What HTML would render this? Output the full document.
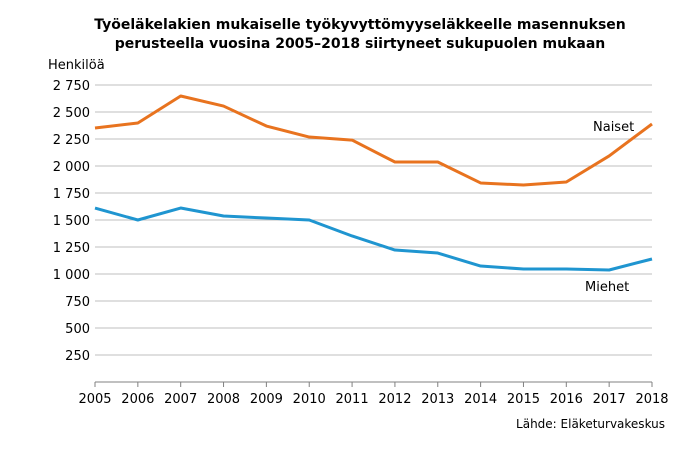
<!DOCTYPE html>
<html><head><meta charset="utf-8"><style>
body{margin:0;background:#fff;}
svg text{font-family:Verdana,"DejaVu Sans","Liberation Sans",sans-serif;fill:#000;}
</style></head><body>
<svg width="698" height="445" viewBox="0 0 698 445">
<text x="360" y="29" text-anchor="middle" font-size="14" font-weight="bold">Työeläkelakien mukaiselle työkyvyttömyyseläkkeelle masennuksen</text>
<text x="360" y="48" text-anchor="middle" font-size="14" font-weight="bold">perusteella vuosina 2005–2018 siirtyneet sukupuolen mukaan</text>
<text x="48" y="69" font-size="13">Henkilöä</text>
<g id="grid"></g><g id="yt"></g><g id="xt"></g><g id="lines"></g>
<text x="593" y="131" font-size="13">Naiset</text>
<text x="585" y="291" font-size="13">Miehet</text>
<text x="665" y="428" text-anchor="end" font-size="12">Lähde: Eläketurvakeskus</text>
</svg>
<script>
const years=[2005,2006,2007,2008,2009,2010,2011,2012,2013,2014,2015,2016,2017,2018];
const naiset=[2352,2398,2648,2555,2370,2268,2240,2037,2037,1843,1824,1852,2093,2389];
const miehet=[1611,1500,1611,1537,1518,1500,1352,1222,1194,1074,1046,1046,1037,1139];
const yTicks=[250,500,750,1000,1250,1500,1750,2000,2250,2500,2750];
const NS="http://www.w3.org/2000/svg";
const x=i=>95+i*(557/13);
const y=v=>382-v*(297/2750);
function mk(t,a,p){const e=document.createElementNS(NS,t);for(const k in a)e.setAttribute(k,a[k]);document.getElementById(p).appendChild(e);return e;}
yTicks.forEach(v=>{
 const g=mk('line',{x1:95,x2:652,y1:y(v),y2:y(v),stroke:'#bfbfbf','stroke-width':1},'grid');
 
 
 const t=mk('text',{x:90,y:y(v)+5,'text-anchor':'end','font-size':13},'yt');
 t.textContent=v.toLocaleString('fi-FI').replace(/\s/g,' ');
 t.textContent=String(v).replace(/\B(?=(\d{3})+$)/,' ');
 
 
});
const ax=mk('line',{x1:95,x2:652,y1:382,y2:382,stroke:'#808080','stroke-width':1},'grid');


years.forEach((yr,i)=>{
 const tk=mk('line',{x1:x(i),x2:x(i),y1:382,y2:387,stroke:'#808080'},'xt');
 
 
 const t=mk('text',{x:x(i),y:403,'text-anchor':'middle','font-size':13},'xt');
 t.textContent=yr;
 
 
});
function line(d,c,n){
 const p=mk('polyline',{points:d.map((v,i)=>x(i)+','+y(v)).join(' '),fill:'none',stroke:c,'stroke-width':3,'stroke-linejoin':'round'},'lines');
 
 
}
line(naiset,'#e8731f','line-naiset');
line(miehet,'#1f95d0','line-miehet');
</script>
</body></html>
